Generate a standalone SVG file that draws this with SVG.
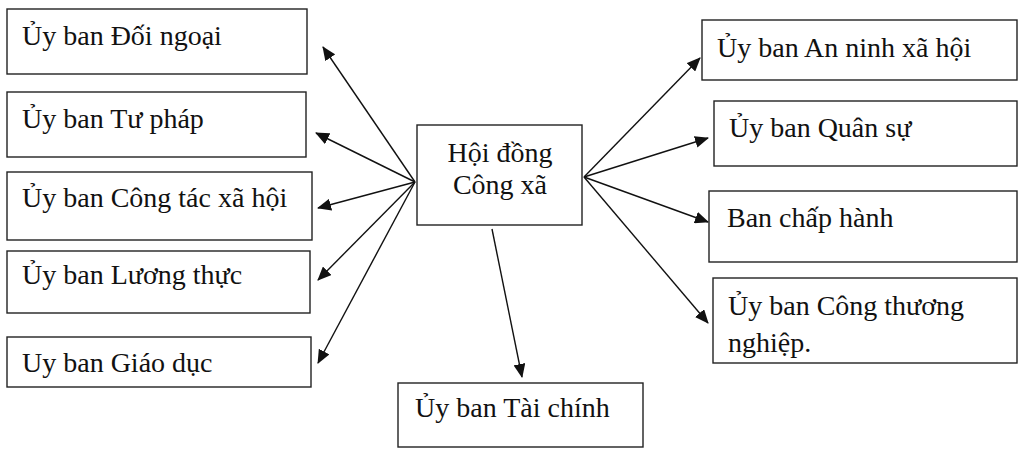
<svg xmlns="http://www.w3.org/2000/svg" width="1024" height="455" viewBox="0 0 1024 455">
<style>
.box{fill:#fff;stroke:#222;stroke-width:1.4}
.t{font-family:"Liberation Serif","Times New Roman",serif;font-size:28px;fill:#111}
.c{stroke:#111;stroke-width:1.4;fill:none;marker-end:url(#ah)}
</style>
<defs>
<marker id="ah" markerUnits="userSpaceOnUse" markerWidth="14" markerHeight="12" refX="13" refY="6" orient="auto">
<path d="M0,0 L14,6 L0,12 Z" fill="#111"/>
</marker>
</defs>
<rect width="1024" height="455" fill="#fff"/>
<g id="n-doingoai"><rect class="box" x="7" y="9" width="300" height="65"/><text class="t" x="22" y="45">Ủy ban Đối ngoại</text></g>
<g id="n-tuphap"><rect class="box" x="7" y="92" width="299" height="65"/><text class="t" x="22" y="128">Ủy ban Tư pháp</text></g>
<g id="n-congtac"><rect class="box" x="7" y="172" width="305" height="68"/><text class="t" x="22" y="207">Ủy ban Công tác xã hội</text></g>
<g id="n-luongthuc"><rect class="box" x="7" y="251" width="303" height="62"/><text class="t" x="22" y="284">Ủy ban Lương thực</text></g>
<g id="n-giaoduc"><rect class="box" x="7" y="337" width="304" height="50"/><text class="t" x="22" y="372">Uy ban Giáo dục</text></g>
<g id="n-hoidong"><rect class="box" x="417" y="125" width="165" height="100"/><text class="t" x="500" y="162" text-anchor="middle">Hội đồng</text><text class="t" x="500" y="194" text-anchor="middle">Công xã</text></g>
<g id="n-taichinh"><rect class="box" x="398" y="383" width="245" height="64"/><text class="t" x="415" y="417">Ủy ban Tài chính</text></g>
<g id="n-anninh"><rect class="box" x="702" y="20" width="315" height="60"/><text class="t" x="717" y="57">Ủy ban An ninh xã hội</text></g>
<g id="n-quansu"><rect class="box" x="714" y="101" width="303" height="65"/><text class="t" x="729" y="137">Ủy ban Quân sự</text></g>
<g id="n-banchaphanh"><rect class="box" x="709" y="191" width="308" height="71"/><text class="t" x="727" y="227">Ban chấp hành</text></g>
<g id="n-congthuong"><rect class="box" x="713" y="278" width="304" height="85"/><text class="t" x="728" y="315">Ủy ban Công thương</text><text class="t" x="728" y="352">nghiệp.</text></g>
<g id="connectors">
<line class="c" x1="415" y1="182" x2="323" y2="47"/>
<line class="c" x1="415" y1="182" x2="316" y2="133"/>
<line class="c" x1="415" y1="182" x2="318" y2="208"/>
<line class="c" x1="415" y1="182" x2="318" y2="280"/>
<line class="c" x1="415" y1="182" x2="318" y2="363"/>
<line class="c" x1="584" y1="177" x2="700" y2="58"/>
<line class="c" x1="584" y1="177" x2="708" y2="138"/>
<line class="c" x1="584" y1="177" x2="708" y2="222"/>
<line class="c" x1="584" y1="177" x2="708" y2="323"/>
<line class="c" x1="492" y1="229" x2="522" y2="377"/>
</g>
</svg>
